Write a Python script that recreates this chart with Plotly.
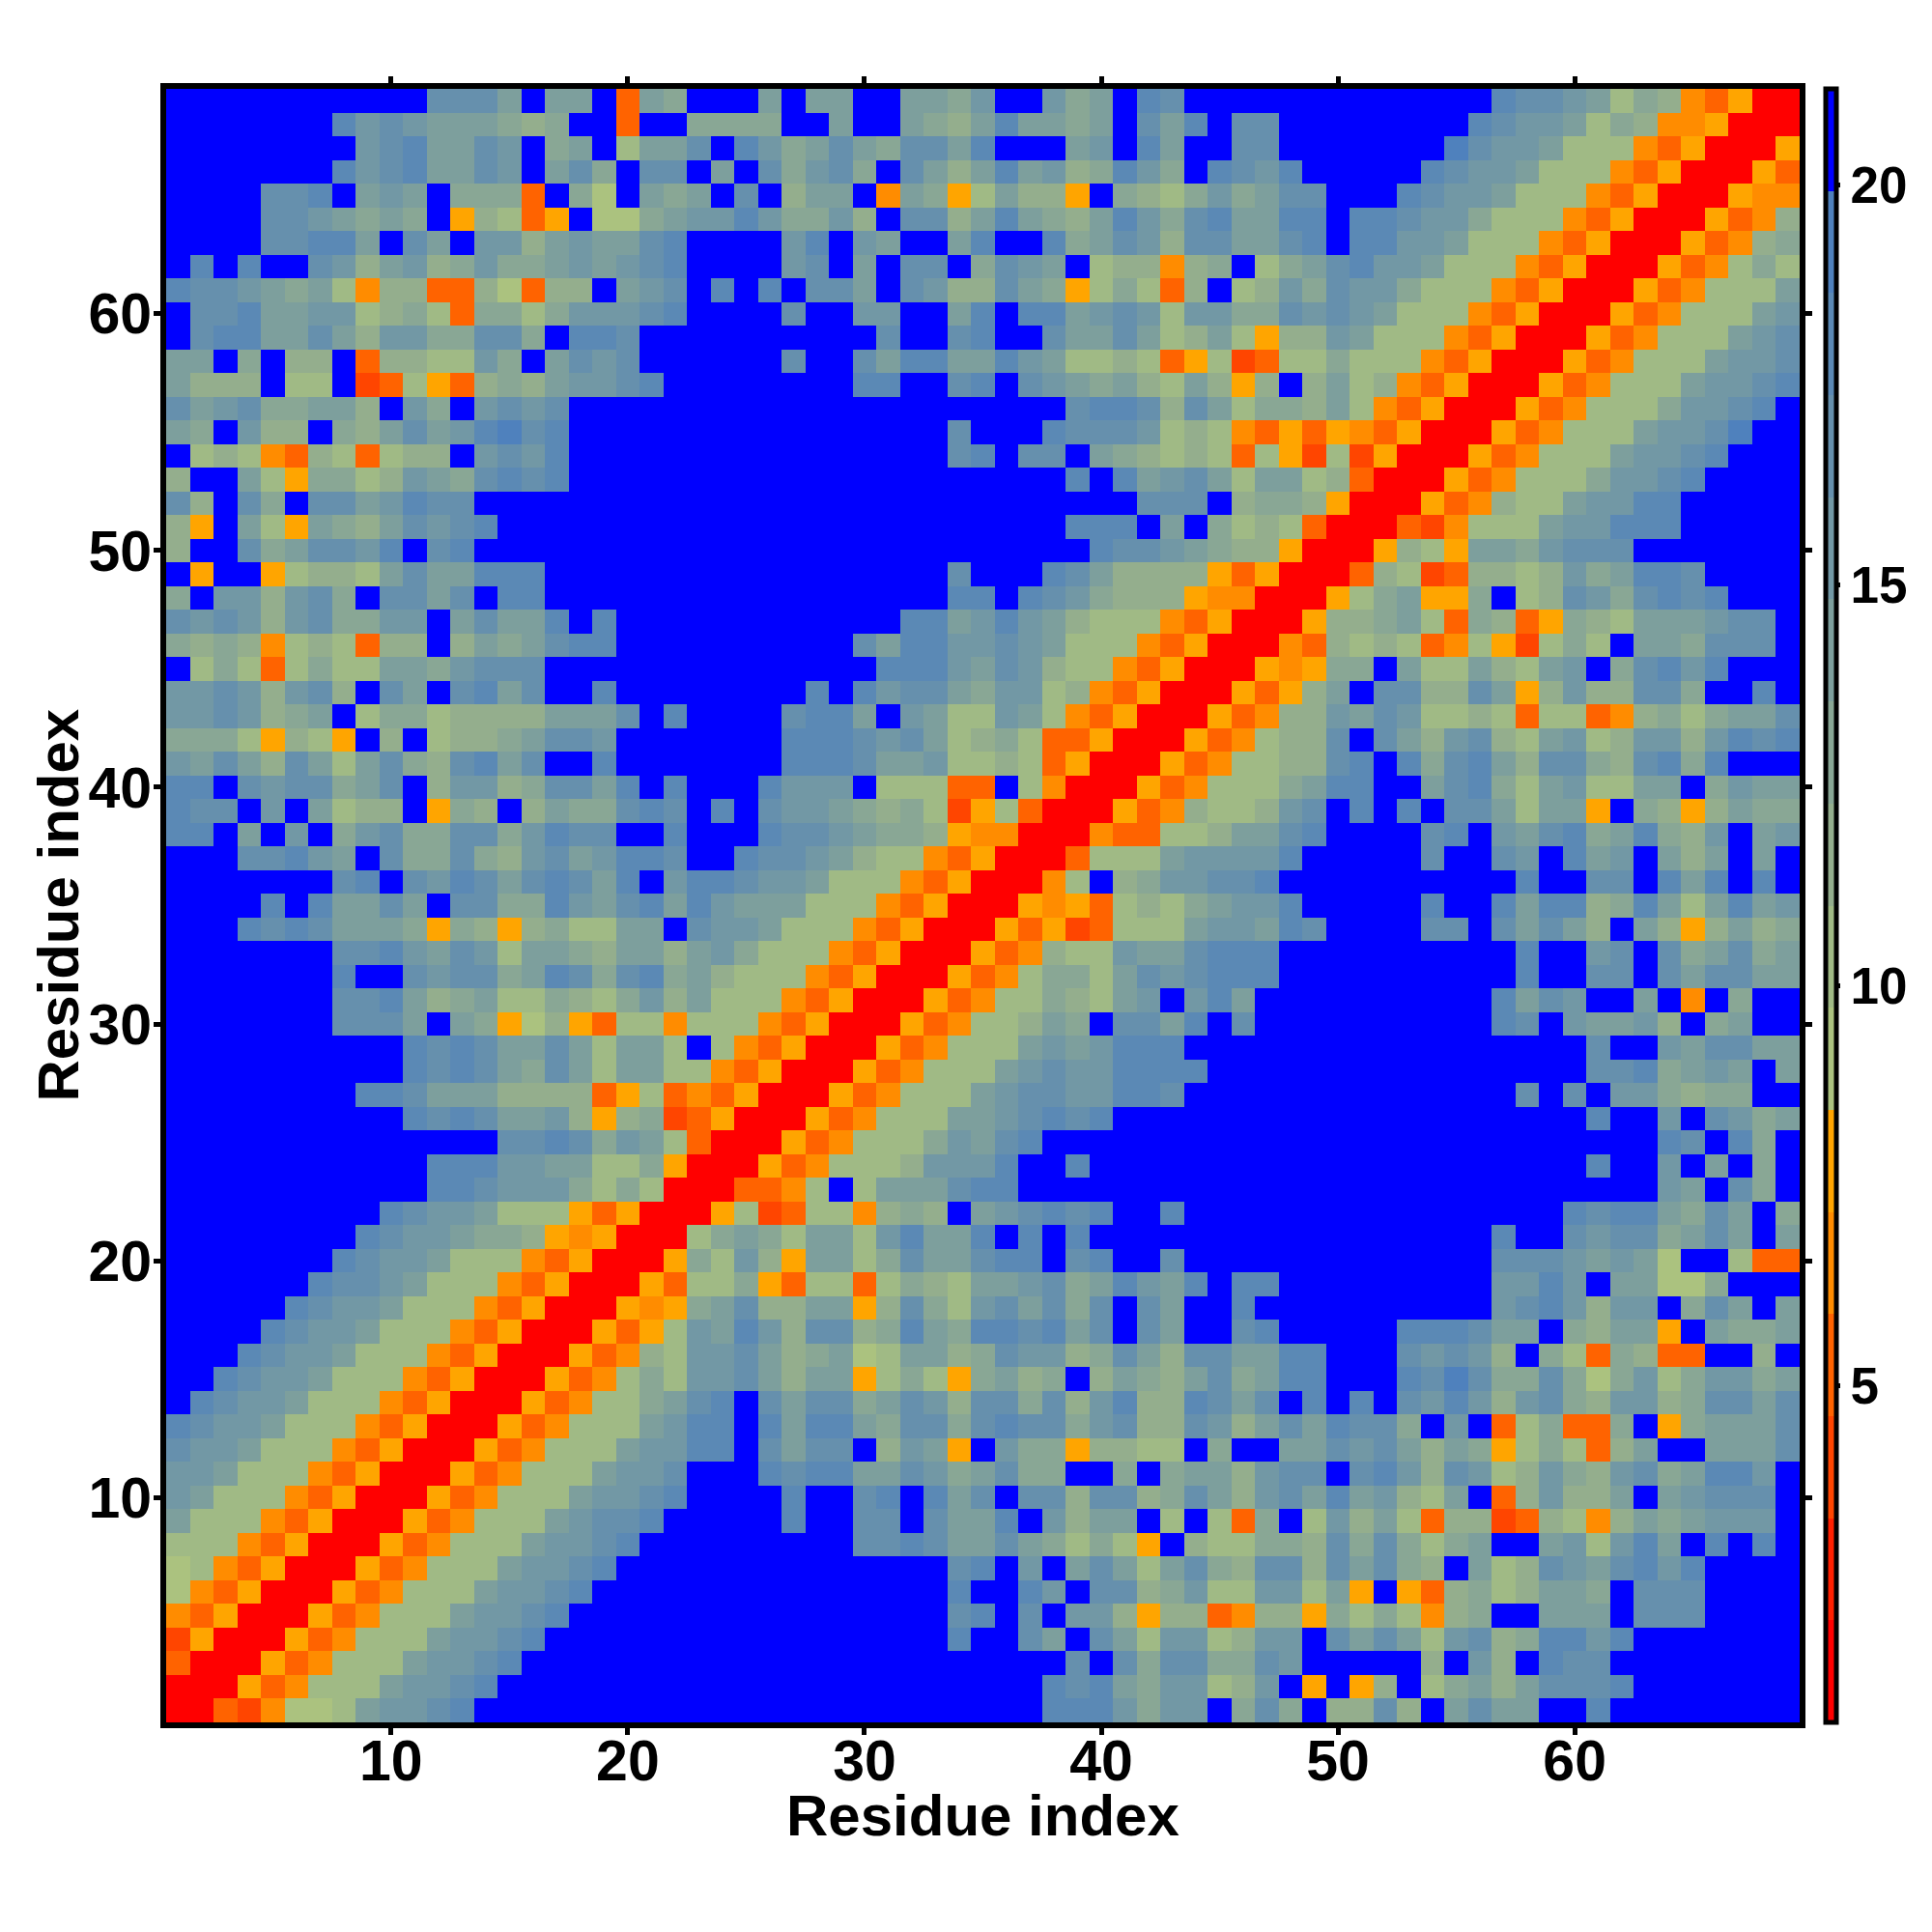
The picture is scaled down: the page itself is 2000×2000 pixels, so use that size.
import plotly.graph_objects as go

# Binned distance levels, one character per cell (hex level 0-F).
# Rows run from residue 69 down to residue 1; each row holds residues 1..row (matrix is symmetric).
ROWS_69_TO_47 = [
"FFFFFFFFFF FCCCAFAAF3 A9FFFAFAAF FAA9BFFB9A FDCFFFFFFF FFFFFFDCCB A79843500",
"FFFFFFFDBC BAAA989FF3 FF9999FFAF FA98ADAA9A FCADFCCFFF FFFFFDCBBA 79844500",
"FFFFFFFFBC DAACBF9AF7 AACFDB9ACA 9CCADFFFAB FDAFFCCFFF FFFFECBBA7 7743500",
"FFFFFFFDBC DAACBFAC9F CCFAFC9BC9 FCA8ADAB89 DB9FDCBDFF FFFDCBBA77 743500",
"FFFFCCDFAB AF9993F96F A9AFCF8AAF 4A957A885F 9879B9ACCF FFDCBBA777 43500",
"FFFFCCBA9A 9F58735F66 9ABBDB99B8 FCC8ADA98A DB9CDAADDF DDCBB97774 3500",
"FFFFCCDDAF CAFBB8ABAA CDFFFFBDFB AFFADFFD9A CB8CCAACDF DDBBA77743 500",
"FDFDFFCB8A B89B99ABAB CDFFFFBCFA FCCF9CBAF7 88489F79AC DBBA777435 00",
"DCCBA9A748 83386388FA BCFDFDFCCA FCB88CA957 9738F78B9C BB97774350 0",
"FCCDAABB78 9739979BBB CDFFFFCFFB BFFADFDDAB CB7BB99CBC BA77743500",
"FCDDAACA8B B99CC9FDDC FFFFFFFFFF CFFCDFFCAA CA78A7588B A77743500",
"AAF9F88F38 877B9FACBC FFFFFFCFFC ADDAADBA77 8735723779 77743500",
"A888F77F23 753898ABBC DFFFFFFFFD DFFCDFCBA9 A87A858F8A 7843500",
"CABC99AA8F B9FBCBCFFF FFFFFFFFFF FFFFFFFFCD DC8CA7998A 743500",
"A9FB88F98A CABDECDFFF FFFFFFFFFF FFFCFFFDCC CB78743535 43500",
"F787438737 88FBCBDFFF FFFFFFFFFF FFFCDFCCFA 9878737527 2500",
"8FFA759978 BA9CDCDFFF FFFFFFFFFF FFFFFFFFDF DABCA7AA78 300",
"C8FC9FCCAB DCCFFFFFFF FFFFFFFFFF FFFFFFFFFF FCCCF89985 00",
"85FA75A98A CBCDFFFFFF FFFFFFFFFF FFFFFFFFDD DFAF978730 0",
"8FFC9ACCBD FCDFFFFFFF FFFFFFFFFF FFFFFFFFFD CCBA988500",
"F5FF57887A CAADDDFFFF FFFFFFFFFF FFFCFFFDCA 888853500",
"9FBB8BC9FC CACFDDFFFF FFFFFFFFFF FFFDDFDCB9 88854400",
"CBCB8BC99B BFACAADFDF FFFFFFFFFF FDDABDBA87 7743500",
]
ROWS_46_TO_24 = [
"9898478738 8F8A9ACDDF FFFFFFFFFC ADDBBCBA77 743500",
"F79737977A A9BCCCFFFF FFFFFFFFFF DDDBACB877 43500",
"BBCB8BC8FC AFCDACFFDF FFFFFFFDFD BCCA9BB784 3500",
"BBCB89AF79 978888AAAC FDFFFFCDDA FBA77BA743 500",
"99975875F8 F7889ACCBF FFFFFFDDDC BCA7897335 00",
"BACA8CA7AC 98CDACFFDF FFFFFFDDDC AAB7787350 0",
"DDFCBCC9AC F8BB89CCAD FDFFFDBBBF 77733F7400",
"DCCFBFA788 F598F8A99C DCFDFCBBA9 897257300",
"DDFAFBF9BC 99CC9BDCCF FDFFFDCCBA 99854400",
"FFFCCDBAFC 99C98BCABD DCFFDCCBA8 7743500",
"FFFFFFFCDF CBDCACDCAD FBDDCBBA77 743500",
"FFFFDFDAAC AFCC99DBAC DADBAAA777 43500",
"FFFDCDCAAA 959858977A AFCBBA7774 3500",
"FFFFFFFCCD BACB7AA98A A8AB977743 500",
"FFFFFFFDFF CBCC9ADC9C D9A8777435 00",
"FFFFFFFCCD A89A779879 B8A7774350 0",
"FFFFFFFCCC AFA9568537 7477743500",
"FFFFFFFFFF DCDCAACA7A A7F743500",
"FFFFFFFFFF DCDCA9CA7A A7743500",
"FFFFFFFFDD CAAA888835 7343500",
"FFFFFFFFFF DCDCAAB858 923500",
"FFFFFFFFFF FFFFCCDC9B A7300",
"FFFFFFFFFF FDDDBBAA77 9500",
]
ROWS_23_TO_1 = [
"FFFFFFFFFF FDDCBBB979 700",
"FFFFFFFFFD CBBA777535 00",
"FFFFFFFFDC BBA9985450 0",
"FFFFFFFDCB BA77743500",
"FFFFFFDCCB A77743500",
"FFFFFDCBBA 77743500",
"FFFFDCBBA7 7743500",
"FFFDCBBA77 743500",
"FFDCBBA777 43500",
"FDCBBA7774 3500",
"DCBBA77743 500",
"CBBA777435 00",
"BBA7774350 0",
"BA77743500",
"A77743500",
"77743500",
"6743500",
"643500",
"43500",
"2500",
"300",
"00",
"0",
]

LEVEL_VALUES = [1.4, 2.7, 4.0, 5.2, 6.5, 7.8, 9.1, 10.4, 11.7, 12.9, 14.2, 15.5, 16.8, 18.0, 19.3, 20.6]
LEVEL_COLORS = ["#FF0000", "#FF2000", "#FF4500", "#FF6300", "#FF8C00", "#FFA500",
                "#ABC27F", "#A0BA85", "#94AE8D", "#89A795", "#7D9F9D", "#7298A5",
                "#6690AD", "#5B89B5", "#4F81BD", "#0000FF"]
Z_MIN, Z_MAX = 0.8, 21.2
RESIDUES = list(range(1, 70))
TICKS = [10, 20, 30, 40, 50, 60]
BAR_TICKS = [5, 10, 15, 20]
AXIS_TITLE = "Residue index"

rows = ROWS_69_TO_47 + ROWS_46_TO_24 + ROWS_23_TO_1
n = len(RESIDUES)
z = [[0.0] * n for _ in range(n)]
bad = []
for i, r in enumerate(rows):
    row_no = n - i
    s = r.replace(" ", "")
    if len(s) != row_no:
        bad.append((row_no, len(s)))
        continue
    for c, ch in enumerate(s):
        v = LEVEL_VALUES[int(ch, 16)]
        z[row_no - 1][c] = v
        z[c][row_no - 1] = v
if bad:
    raise SystemExit("bad rows: %s" % bad)

k = len(LEVEL_COLORS)
scale = []
for i, col in enumerate(LEVEL_COLORS):
    scale += [[i / k, col], [(i + 1) / k, col]]

tick_font = dict(family="Liberation Sans", size=59, color="black", weight=700)
title_font = dict(family="Liberation Sans", size=60, color="black", weight=700)

fig = go.Figure(go.Heatmap(
    x=RESIDUES, y=RESIDUES, z=z, zmin=Z_MIN, zmax=Z_MAX, colorscale=scale,
    colorbar=dict(
        x=1.0157, xanchor="left", xpad=0, y=0.5, yanchor="middle", ypad=0, len=1, lenmode="fraction",
        thickness=11, thicknessmode="pixels", outlinecolor="black", outlinewidth=5,
        tickmode="array", tickvals=BAR_TICKS, ticks="outside", ticklen=2, tickwidth=5, tickcolor="black",
        tickfont=dict(family="Liberation Sans", size=53, color="black", weight=700),
    ),
))
axis = dict(range=[0.5, 69.5], tickmode="array", tickvals=TICKS, ticks="outside", ticklen=7, tickwidth=5,
            tickcolor="black", showline=True, linecolor="black", linewidth=6, mirror="ticks",
            showgrid=False, zeroline=False, tickfont=tick_font, automargin=False)
fig.update_layout(
    width=2000, height=2000, paper_bgcolor="white", plot_bgcolor="white",
    margin=dict(l=172, r=137, t=92, b=217, autoexpand=False),
    xaxis=dict(axis, ticklabelstandoff=-24),
    yaxis=dict(axis, ticklabelstandoff=-10),
    annotations=[
        dict(text=AXIS_TITLE, font=title_font, showarrow=False, xref="paper", yref="paper",
             x=0.5, y=-0.0568, xanchor="center", yanchor="middle"),
        dict(text=AXIS_TITLE, font=title_font, showarrow=False, xref="paper", yref="paper", textangle=-90,
             x=-0.0662, y=0.5, xanchor="center", yanchor="middle"),
    ],
)
fig.write_html("out.html", post_script="document.body.style.margin='0';", config=dict(displayModeBar=False))
